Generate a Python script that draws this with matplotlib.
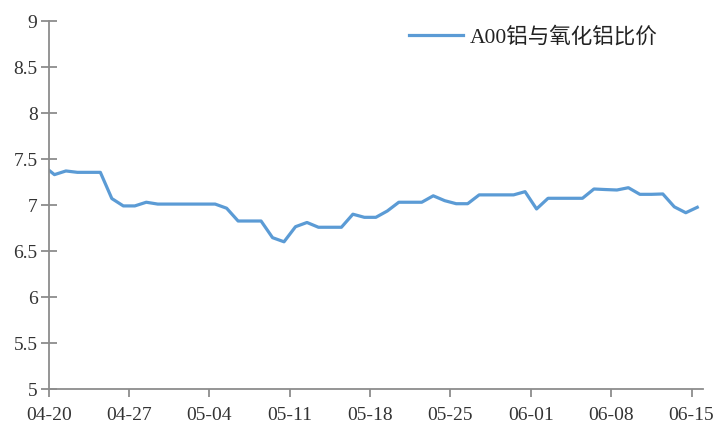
import matplotlib
matplotlib.use("Agg")
import matplotlib.pyplot as plt
import pandas as pd

# Daily ratio, 04-19 (partly outside view) .. 06-15
start_date = "2020-04-19"
values = [7.43,
          7.33, 7.37, 7.355, 7.355, 7.355, 7.07, 6.99, 6.99, 7.03, 7.01,
          7.01, 7.01, 7.01, 7.01, 7.01, 6.965, 6.826, 6.826, 6.826, 6.645,
          6.60, 6.764, 6.81, 6.758, 6.758, 6.758, 6.90, 6.866, 6.866, 6.935,
          7.03, 7.03, 7.03, 7.10, 7.047, 7.014, 7.014, 7.11, 7.11, 7.11,
          7.11, 7.145, 6.957, 7.073, 7.073, 7.073, 7.073, 7.174, 7.168, 7.163,
          7.188, 7.116, 7.116, 7.12, 6.98, 6.916, 6.975]
series_name = "A00铝与氧化铝比价"
y_ticks = [5, 5.5, 6, 6.5, 7, 7.5, 8, 8.5, 9]
x_tick_labels = ["04-20", "04-27", "05-04", "05-11", "05-18", "05-25", "06-01", "06-08", "06-15"]

dates = pd.date_range(start_date, periods=len(values), freq="D")
xpos = dates + pd.Timedelta(hours=12)

fig = plt.figure(figsize=(7.22, 4.26), dpi=100)
ax = fig.add_axes([48.7/722, 37/426, (703-48.7)/722, (389-21)/426])

line_color = "#5B9BD5"
ax.plot(xpos, values, color=line_color, lw=2.3, label=series_name, solid_joinstyle="round")

ax.set_xlim(pd.Timestamp("2020-04-20"), pd.Timestamp("2020-06-16"))
ax.set_ylim(5, 9)

tick_dates = [pd.Timestamp("2020-" + s) for s in x_tick_labels]
ax.set_xticks(tick_dates)
ax.set_xticklabels(x_tick_labels)
ax.set_yticks(y_ticks)
ax.set_yticklabels([f"{v:g}" for v in y_ticks])

spine_c = "#8C8C8C"
for s in ["top", "right"]:
    ax.spines[s].set_visible(False)
for s in ["left", "bottom"]:
    ax.spines[s].set_color(spine_c)
    ax.spines[s].set_linewidth(1.3)

font = ["Liberation Serif", "Noto Sans CJK SC"]
ax.tick_params(axis="y", direction="inout", length=12, width=1.3, color=spine_c,
               labelsize=14, pad=2, labelcolor="#333333")
ax.tick_params(axis="x", direction="out", length=6, width=1.3, color=spine_c,
               labelsize=14, pad=7, labelcolor="#333333")
for lab in ax.get_xticklabels() + ax.get_yticklabels():
    lab.set_family(font)

leg = ax.legend(loc="upper right", bbox_to_anchor=(0.926, 0.962), bbox_transform=fig.transFigure,
                frameon=False, handlelength=2.5, handletextpad=0.35, borderpad=0,
                prop={"family": font, "size": 15.5})
for t in leg.get_texts():
    t.set_color("#222222")

fig.savefig("out.png", dpi=100)
